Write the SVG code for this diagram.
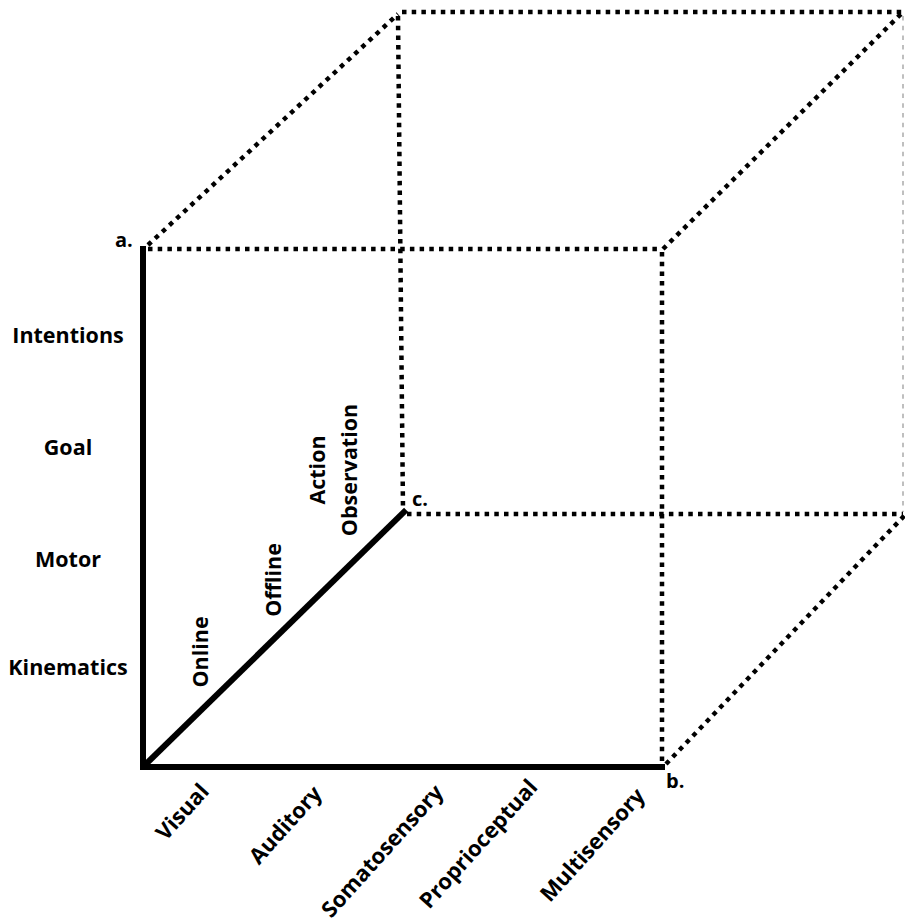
<svg xmlns="http://www.w3.org/2000/svg" width="905" height="922" viewBox="0 0 905 922">
<style>
.dot{fill:none;stroke:#000;stroke-width:4.5;stroke-dasharray:4.5 5.2;stroke-linecap:butt}
.solid{fill:none;stroke:#000;stroke-width:6;stroke-linecap:square}
text{font-family:"Open Sans","DejaVu Sans",sans-serif;font-weight:bold;fill:#000}
.lbl{font-size:21.5px}
.xl{font-size:22px}
.corner{font-size:20px}
</style>
<rect width="905" height="922" fill="#fff"/>
<g id="connectors">
<line class="dot" x1="148" y1="249" x2="662" y2="249"/>
<line class="dot" x1="662" y1="252" x2="662" y2="764"/>
<line class="dot" x1="148" y1="245" x2="398" y2="14"/>
<line class="dot" x1="402" y1="12" x2="903" y2="12"/>
<line class="dot" x1="398" y1="16" x2="403" y2="510"/>
<line class="dot" x1="407" y1="514" x2="903" y2="514"/>
<line class="dot" x1="663" y1="249" x2="903" y2="12"/>
<line class="dot" x1="666" y1="764" x2="905" y2="515"/>
<line class="dot" x1="903" y1="16" x2="903" y2="512" style="stroke-width:2;opacity:.25"/>
<line class="solid" x1="143" y1="249" x2="143" y2="767"/>
<line class="solid" x1="143" y1="767" x2="662" y2="767"/>
<line class="solid" x1="145" y1="765" x2="404" y2="512"/>
</g>
<g id="corner-a"><text class="corner" x="115" y="247">a.</text></g>
<g id="corner-b"><text class="corner" x="666" y="788">b.</text></g>
<g id="corner-c"><text class="corner" x="412" y="506">c.</text></g>
<g id="y-intentions"><text class="lbl" x="68" y="343" text-anchor="middle">Intentions</text></g>
<g id="y-goal"><text class="lbl" x="68" y="455" text-anchor="middle">Goal</text></g>
<g id="y-motor"><text class="lbl" x="68" y="567" text-anchor="middle">Motor</text></g>
<g id="y-kinematics"><text class="lbl" x="68" y="675" text-anchor="middle">Kinematics</text></g>
<g id="z-online"><text class="lbl" transform="translate(208,652) rotate(-90)" text-anchor="middle">Online</text></g>
<g id="z-offline"><text class="lbl" transform="translate(281,580) rotate(-90)" text-anchor="middle">Offline</text></g>
<g id="z-action"><text class="lbl" transform="translate(325,470) rotate(-90)" text-anchor="middle">Action</text>
<text class="lbl" transform="translate(357,470) rotate(-90)" text-anchor="middle">Observation</text></g>
<g id="x-visual"><text class="xl" transform="translate(188,817) rotate(-48)" text-anchor="middle">Visual</text></g>
<g id="x-auditory"><text class="xl" transform="translate(291,830) rotate(-48)" text-anchor="middle">Auditory</text></g>
<g id="x-somatosensory"><text class="xl" transform="translate(388,856) rotate(-48)" text-anchor="middle">Somatosensory</text></g>
<g id="x-proprioceptual"><text class="xl" transform="translate(484,849) rotate(-48)" text-anchor="middle">Proprioceptual</text></g>
<g id="x-multisensory"><text class="xl" transform="translate(598,850) rotate(-48)" text-anchor="middle">Multisensory</text></g>
</svg>
